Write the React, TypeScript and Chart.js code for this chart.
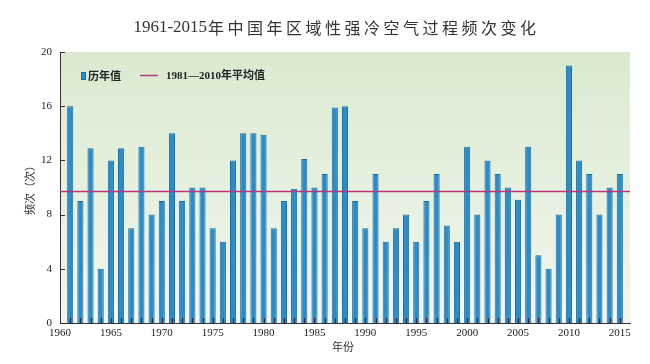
import React, { useEffect, useRef } from "react";
import { Chart, registerables } from "chart.js";

Chart.register(...registerables);

const titleNumber = "1961-2015";
const titleText = "年中国年区域性强冷空气过程频次变化";
const yAxisLabel = "频次（次）";
const xAxisLabel = "年份";
const barLegend = "历年值";
const meanLegend = "1981—2010年平均值";

const years = [
  1961, 1962, 1963, 1964, 1965, 1966, 1967, 1968, 1969, 1970,
  1971, 1972, 1973, 1974, 1975, 1976, 1977, 1978, 1979, 1980,
  1981, 1982, 1983, 1984, 1985, 1986, 1987, 1988, 1989, 1990,
  1991, 1992, 1993, 1994, 1995, 1996, 1997, 1998, 1999, 2000,
  2001, 2002, 2003, 2004, 2005, 2006, 2007, 2008, 2009, 2010,
  2011, 2012, 2013, 2014, 2015,
];
const frequency = [
  16, 9, 12.9, 4, 12, 12.9, 7, 13, 8, 9,
  14, 9, 10, 10, 7, 6, 12, 14, 14, 13.9,
  7, 9, 9.9, 12.1, 10, 11, 15.9, 16, 9, 7,
  11, 6, 7, 8, 6, 9, 11, 7.2, 6, 13,
  8, 12, 11, 10, 9.1, 13, 5, 4, 8, 19,
  12, 11, 8, 10, 11,
];
const meanValue = 9.7;
const meanSpan = [1960, 2016];
const xRange = [1960, 2016];
const yTicks = [0, 4, 8, 12, 16, 20];

const BAR_COLOR = "#2a8ccb";
const BAR_BORDER = "#1f6d9c";
const MEAN_COLOR = "#b8367e";
const SERIF = "'Liberation Serif', 'Noto Sans CJK SC', serif";
const CJK = "'Noto Sans CJK SC', 'Liberation Serif', sans-serif";

const decorPlugin = {
  id: "decor",
  beforeDraw(chart: any) {
    const { ctx, chartArea } = chart;
    const { left, top, right, bottom } = chartArea;
    const g = ctx.createLinearGradient(0, top, 0, bottom);
    g.addColorStop(0, "#d9eacf");
    g.addColorStop(1, "#f3f6ee");
    ctx.save();
    ctx.fillStyle = g;
    ctx.fillRect(left, top, right - left, bottom - top);
    ctx.restore();
  },
  afterDatasetsDraw(chart: any) {
    const { ctx, chartArea, scales } = chart;
    const xs = scales.x;
    const ys = scales.y;
    ctx.save();
    ctx.strokeStyle = "#1b2c40";
    ctx.lineWidth = 1.2;
    years.forEach((yr) => {
      const px = Math.round(xs.getPixelForValue(yr)) + 0.5;
      ctx.beginPath();
      ctx.moveTo(px, chartArea.bottom);
      ctx.lineTo(px, chartArea.bottom - 5);
      ctx.stroke();
    });
    ctx.strokeStyle = "#333";
    ctx.lineWidth = 1;
    yTicks.forEach((v) => {
      const py = Math.round(ys.getPixelForValue(v)) + 0.5;
      ctx.beginPath();
      ctx.moveTo(chartArea.left, py);
      ctx.lineTo(chartArea.left + 5, py);
      ctx.stroke();
    });
    ctx.restore();
  },
  afterDraw(chart: any) {
    const { ctx, chartArea } = chart;
    ctx.save();
    // Title
    ctx.fillStyle = "#333";
    ctx.textBaseline = "middle";
    ctx.font = `17px ${SERIF}`;
    const w1 = ctx.measureText(titleNumber).width;
    ctx.font = `16px ${CJK}`;
    (ctx as any).letterSpacing = "3.5px";
    const w2 = ctx.measureText(titleText).width;
    const startX = 336 - (w1 + w2) / 2;
    (ctx as any).letterSpacing = "0px";
    ctx.font = `17px ${SERIF}`;
    ctx.textAlign = "left";
    ctx.fillText(titleNumber, startX, 28);
    ctx.font = `16px ${CJK}`;
    (ctx as any).letterSpacing = "3.5px";
    ctx.fillText(titleText, startX + w1 + 1, 28);
    (ctx as any).letterSpacing = "0px";

    // Legend
    ctx.fillStyle = BAR_COLOR;
    ctx.fillRect(81, 72, 5, 8);
    ctx.strokeStyle = BAR_BORDER;
    ctx.lineWidth = 1;
    ctx.strokeRect(81.5, 72.5, 4, 7);
    ctx.fillStyle = "#222";
    ctx.font = `bold 11px ${CJK}`;
    ctx.fillText(barLegend, 88, 76);
    ctx.strokeStyle = MEAN_COLOR;
    ctx.lineWidth = 1.5;
    ctx.beginPath();
    ctx.moveTo(140, 75.5);
    ctx.lineTo(158, 75.5);
    ctx.stroke();
    ctx.font = `bold 11px ${SERIF}`;
    ctx.fillText(meanLegend, 166, 76);

    // Axis titles
    ctx.font = `11px ${CJK}`;
    ctx.fillStyle = "#333";
    ctx.textAlign = "center";
    ctx.fillText(xAxisLabel, (chartArea.left + chartArea.right) / 2 - 2, 347);
    ctx.translate(30, (chartArea.top + chartArea.bottom) / 2);
    ctx.rotate(-Math.PI / 2);
    ctx.fillText(yAxisLabel, 0, 0);
    ctx.restore();
  },
};

export default function App() {
  const ref = useRef<HTMLCanvasElement | null>(null);

  useEffect(() => {
    if (!ref.current) return;
    const chart = new Chart(ref.current, {
      type: "bar",
      data: {
        datasets: [
          {
            type: "line",
            label: meanLegend,
            data: meanSpan.map((x) => ({ x, y: meanValue })),
            borderColor: MEAN_COLOR,
            borderWidth: 1.5,
            pointRadius: 0,
            order: 0,
          } as any,
          {
            type: "bar",
            label: barLegend,
            data: years.map((x, i) => ({ x, y: frequency[i] })),
            backgroundColor: BAR_COLOR,
            borderColor: BAR_BORDER,
            borderWidth: 1,
            barPercentage: 0.6,
            categoryPercentage: 1,
            order: 1,
          } as any,
        ],
      },
      options: {
        responsive: false,
        animation: false,
        layout: { padding: { top: 52, right: 20, left: 0, bottom: 0 } },
        plugins: {
          legend: { display: false },
          title: { display: false },
          tooltip: { enabled: false },
        },
        scales: {
          x: {
            type: "linear",
            offset: false,
            min: xRange[0],
            max: xRange[1],
            grid: { display: false, drawTicks: false, offset: false },
            border: { display: true, color: "#333", width: 1 },
            ticks: {
              stepSize: 5,
              includeBounds: false,
              autoSkip: false,
              maxRotation: 0,
              padding: 4,
              color: "#222",
              font: { family: SERIF, size: 11 },
              callback: (v: any) => String(v),
            },
            afterFit: (s: any) => {
              s.height = 41;
            },
          },
          y: {
            min: 0,
            max: 20,
            grid: { display: false, drawTicks: false },
            border: { display: true, color: "#333", width: 1 },
            ticks: {
              stepSize: 4,
              padding: 8,
              color: "#222",
              font: { family: SERIF, size: 11 },
              callback: (v: any) => String(v),
            },
            afterFit: (s: any) => {
              s.width = 60;
            },
          },
        },
      } as any,
      plugins: [decorPlugin],
    });
    return () => chart.destroy();
  }, []);

  return (
    <div style={{ position: "absolute", left: 0, top: 0, width: 650, height: 364, background: "#fff" }}>
      <canvas ref={ref} width={650} height={364} style={{ display: "block" }} />
    </div>
  );
}
